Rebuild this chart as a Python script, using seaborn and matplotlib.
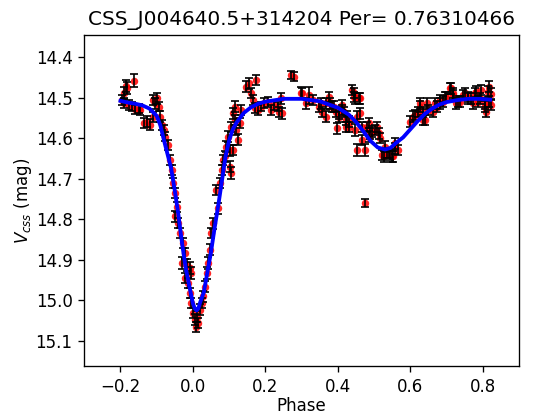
import pandas as pd
import matplotlib
matplotlib.use("Agg")
import matplotlib.pyplot as plt
import seaborn as sns

# Observed points (phase, V_css magnitude, error)
phase = [-0.196, -0.191, -0.189, -0.186, -0.182, -0.177, -0.168, -0.164, -0.159, -0.150,
         -0.145, -0.136, -0.127, -0.118, -0.109, -0.109, -0.104, -0.100, -0.095, -0.090,
         -0.086, -0.081, -0.077, -0.068, -0.063, -0.058, -0.054, -0.049, -0.045, -0.049,
         -0.040, -0.036, -0.027, -0.022, -0.031, -0.017, -0.008, -0.004, -0.022, -0.013,
         -0.008, -0.004, 0.001, 0.005, 0.010, 0.014, 0.008, 0.019, 0.024, 0.028,
         0.033, 0.038, 0.042, 0.047, 0.051, 0.056, 0.069, 0.063, 0.074, 0.079,
         0.083, 0.088, 0.092, 0.097, 0.101, 0.106, 0.110, 0.101, 0.106, 0.110,
         0.115, 0.120, 0.124, 0.129, 0.115, 0.133, 0.147, 0.156, 0.161, 0.165,
         0.174, 0.170, 0.179, 0.188, 0.197, 0.206, 0.215, 0.225, 0.234, 0.238,
         0.247, 0.243, 0.270, 0.279, 0.298, 0.302, 0.312, 0.321, 0.330, 0.348,
         0.353, 0.357, 0.366, 0.366, 0.375, 0.379, 0.384, 0.389, 0.394, 0.398,
         0.403, 0.403, 0.412, 0.412, 0.416, 0.421, 0.421, 0.425, 0.430, 0.430,
         0.439, 0.444, 0.444, 0.448, 0.448, 0.453, 0.453, 0.458, 0.462, 0.462,
         0.467, 0.467, 0.476, 0.476, 0.480, 0.485, 0.485, 0.489, 0.494, 0.503,
         0.508, 0.512, 0.517, 0.521, 0.526, 0.531, 0.535, 0.540, 0.544, 0.549,
         0.553, 0.558, 0.558, 0.567, 0.599, 0.608, 0.613, 0.622, 0.626, 0.626,
         0.636, 0.636, 0.640, 0.645, 0.649, 0.663, 0.667, 0.672, 0.681, 0.681,
         0.690, 0.695, 0.699, 0.709, 0.713, 0.718, 0.718, 0.727, 0.732, 0.736,
         0.745, 0.750, 0.759, 0.759, 0.768, 0.773, 0.777, 0.782, 0.786, 0.791,
         0.795, 0.805, 0.805, 0.809, 0.814, 0.818, 0.818, 0.823, 0.823]
mag = [14.505, 14.489, 14.514, 14.471, 14.477, 14.518, 14.522, 14.458, 14.529, 14.527,
       14.530, 14.563, 14.559, 14.567, 14.506, 14.547, 14.514, 14.502, 14.522, 14.547,
       14.567, 14.580, 14.596, 14.617, 14.654, 14.678, 14.711, 14.736, 14.769, 14.793,
       14.810, 14.834, 14.859, 14.884, 14.908, 14.912, 14.920, 14.933, 14.945, 14.957,
       14.982, 15.007, 15.031, 15.048, 15.040, 15.056, 15.065, 15.023, 15.007, 14.990,
       14.966, 14.933, 14.908, 14.875, 14.834, 14.810, 14.773, 14.728, 14.711, 14.678,
       14.654, 14.645, 14.621, 14.596, 14.670, 14.686, 14.629, 14.630, 14.572, 14.539,
       14.555, 14.580, 14.604, 14.563, 14.522, 14.530, 14.473, 14.465, 14.489, 14.506,
       14.457, 14.526, 14.530, 14.522, 14.514, 14.510, 14.530, 14.518, 14.522, 14.535,
       14.539, 14.502, 14.444, 14.448, 14.488, 14.489, 14.514, 14.494, 14.506, 14.522,
       14.514, 14.535, 14.547, 14.514, 14.498, 14.514, 14.522, 14.522, 14.535, 14.576,
       14.539, 14.547, 14.518, 14.530, 14.535, 14.555, 14.572, 14.547, 14.559, 14.572,
       14.481, 14.489, 14.498, 14.502, 14.580, 14.547, 14.629, 14.502, 14.539, 14.502,
       14.572, 14.604, 14.629, 14.760, 14.572, 14.563, 14.596, 14.588, 14.584, 14.580,
       14.572, 14.588, 14.600, 14.641, 14.645, 14.621, 14.637, 14.637, 14.641, 14.645,
       14.645, 14.613, 14.625, 14.629, 14.559, 14.547, 14.543, 14.535, 14.514, 14.522,
       14.535, 14.555, 14.555, 14.514, 14.530, 14.535, 14.514, 14.522, 14.514, 14.506,
       14.510, 14.498, 14.498, 14.477, 14.477, 14.494, 14.489, 14.514, 14.510, 14.510,
       14.494, 14.489, 14.498, 14.502, 14.502, 14.514, 14.489, 14.485, 14.510, 14.502,
       14.481, 14.514, 14.522, 14.535, 14.485, 14.473, 14.510, 14.518, 14.490]
err = [0.012, 0.015, 0.012, 0.015, 0.015, 0.012, 0.012, 0.016, 0.012, 0.012,
       0.013, 0.013, 0.013, 0.014, 0.013, 0.012, 0.013, 0.014, 0.012, 0.013,
       0.013, 0.012, 0.012, 0.013, 0.012, 0.012, 0.012, 0.012, 0.012, 0.013,
       0.012, 0.012, 0.013, 0.013, 0.014, 0.015, 0.014, 0.014, 0.013, 0.013,
       0.013, 0.013, 0.013, 0.013, 0.013, 0.013, 0.012, 0.013, 0.013, 0.013,
       0.013, 0.014, 0.014, 0.013, 0.013, 0.013, 0.013, 0.013, 0.013, 0.013,
       0.013, 0.013, 0.013, 0.013, 0.013, 0.014, 0.013, 0.013, 0.013, 0.013,
       0.013, 0.013, 0.014, 0.013, 0.013, 0.013, 0.014, 0.014, 0.013, 0.013,
       0.013, 0.013, 0.013, 0.012, 0.012, 0.012, 0.013, 0.012, 0.012, 0.013,
       0.013, 0.013, 0.010, 0.010, 0.015, 0.013, 0.013, 0.021, 0.013, 0.013,
       0.013, 0.013, 0.014, 0.013, 0.013, 0.013, 0.013, 0.013, 0.013, 0.013,
       0.013, 0.013, 0.013, 0.013, 0.013, 0.013, 0.013, 0.013, 0.013, 0.013,
       0.013, 0.013, 0.013, 0.013, 0.014, 0.013, 0.014, 0.013, 0.013, 0.013,
       0.013, 0.013, 0.014, 0.010, 0.013, 0.013, 0.013, 0.013, 0.013, 0.013,
       0.013, 0.013, 0.013, 0.013, 0.013, 0.013, 0.013, 0.013, 0.013, 0.013,
       0.013, 0.013, 0.013, 0.013, 0.013, 0.013, 0.013, 0.013, 0.013, 0.013,
       0.013, 0.013, 0.013, 0.013, 0.013, 0.013, 0.013, 0.013, 0.013, 0.013,
       0.013, 0.013, 0.013, 0.013, 0.013, 0.013, 0.013, 0.013, 0.013, 0.013,
       0.013, 0.013, 0.013, 0.013, 0.013, 0.013, 0.013, 0.013, 0.013, 0.013,
       0.013, 0.013, 0.013, 0.013, 0.013, 0.013, 0.013, 0.013, 0.013]

# Fitted model curve
model_phase = [-0.200, -0.180, -0.160, -0.140, -0.120, -0.100, -0.090, -0.080, -0.070, -0.060,
               -0.050, -0.040, -0.030, -0.020, -0.010, 0.000, 0.005, 0.010, 0.015, 0.020,
               0.030, 0.040, 0.050, 0.060, 0.070, 0.080, 0.090, 0.100, 0.110, 0.120,
               0.140, 0.160, 0.180, 0.200, 0.250, 0.300, 0.350, 0.400, 0.430, 0.450,
               0.470, 0.490, 0.510, 0.530, 0.545, 0.560, 0.580, 0.600, 0.620, 0.640,
               0.660, 0.680, 0.700, 0.730, 0.760, 0.790, 0.820]
model_mag = [14.508, 14.512, 14.515, 14.519, 14.527, 14.545, 14.568, 14.605, 14.640, 14.675,
             14.730, 14.790, 14.860, 14.920, 14.965, 15.008, 15.020, 15.025, 15.020, 15.005,
             14.980, 14.930, 14.880, 14.820, 14.765, 14.705, 14.645, 14.605, 14.578, 14.562,
             14.538, 14.524, 14.515, 14.510, 14.503, 14.503, 14.509, 14.525, 14.542, 14.560,
             14.583, 14.607, 14.623, 14.628, 14.624, 14.612, 14.598, 14.578, 14.558, 14.540,
             14.527, 14.517, 14.511, 14.506, 14.503, 14.503, 14.505]

df = pd.DataFrame({"phase": phase, "mag": mag, "err": err})
model = pd.DataFrame({"phase": model_phase, "mag": model_mag})

fig, ax = plt.subplots(figsize=(533 / 120, 414 / 120), dpi=120)
fig.subplots_adjust(left=0.158, right=0.974, top=0.915, bottom=0.116)

sns.scatterplot(data=df, x="phase", y="mag", color="red", s=20, linewidth=0,
                alpha=0.85, ax=ax, zorder=2)
ax.errorbar(df["phase"], df["mag"], yerr=df["err"], fmt="none", ecolor="black",
            elinewidth=1, capsize=2.5, capthick=1, zorder=3)
sns.lineplot(data=model, x="phase", y="mag", color="blue", linewidth=2.3,
             sort=False, estimator=None, ax=ax, zorder=4)

ax.set_xlim(-0.3, 0.9)
ax.set_ylim(15.162, 14.346)
ax.set_yticks([14.4, 14.5, 14.6, 14.7, 14.8, 14.9, 15.0, 15.1])
ax.set_xticks([-0.2, 0.0, 0.2, 0.4, 0.6, 0.8])
ax.set_xlabel("Phase", labelpad=1)
ax.set_ylabel("$V_{css}$ (mag)", labelpad=1)
ax.set_title("CSS_J004640.5+314204 Per= 0.76310466")

fig.savefig("out.png", dpi=120)
